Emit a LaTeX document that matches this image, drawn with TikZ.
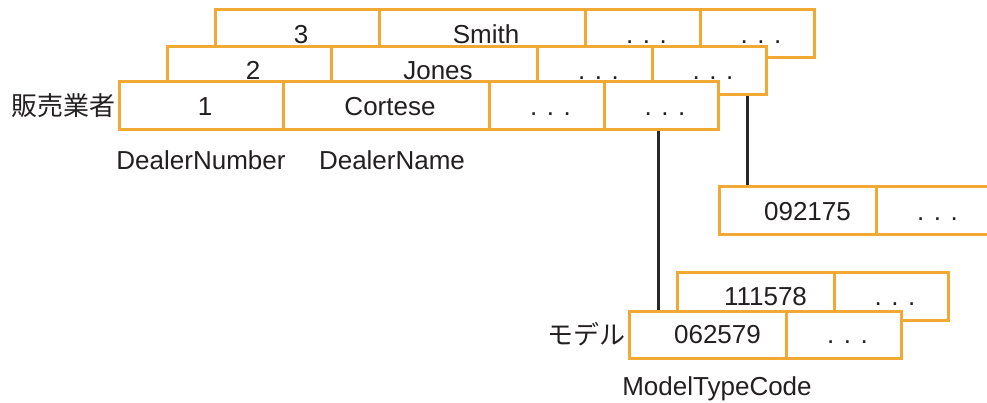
\documentclass[tikz,border=0pt]{standalone}
\usepackage{fontspec}
\setmainfont{Liberation Sans}
\newfontfamily\cjk{Noto Sans CJK JP}
\definecolor{boxorange}{RGB}{241,169,52}
\definecolor{textdark}{RGB}{35,31,32}
\definecolor{linedark}{RGB}{40,40,40}
\tikzset{
  cell/.style={draw=boxorange, line width=3pt, fill=white, inner sep=0pt, outer sep=0pt,
    minimum height=48pt, text height=18.6pt, text depth=0pt, anchor=north west,
    text=textdark, font=\fontsize{26}{30}\selectfont},
  lbl/.style={inner sep=0pt, text=textdark, font=\fontsize{26}{30}\selectfont,
    text height=18.6pt, text depth=0pt},
  cjklbl/.style={inner sep=3pt, text=textdark, font=\fontsize{26}{30}\selectfont\cjk},
  conn/.style={draw=linedark, line width=3pt, shorten >=1.5pt, shorten <=1.5pt},
}
\newcommand{\sh}{\hspace*{8pt}}
\newcommand{\shn}{\hspace*{20pt}}
\begin{document}
\begin{tikzpicture}[x=1pt,y=-1pt]
\path[use as bounding box, clip] (0,0) rectangle (987,403);
% dealer row 3 (back)
\node[cell, minimum width=164pt] (r3c1) at (215,10) {\sh 3};
\node[cell, minimum width=206pt] (r3c2) at (r3c1.north east) {\sh Smith};
\node[cell, minimum width=115pt] (r3c3) at (r3c2.north east) {\sh . . .};
\node[cell, minimum width=114pt] (r3c4) at (r3c3.north east) {\sh . . .};
% dealer row 2
\node[cell, minimum width=164pt] (r2c1) at (167,46.5) {\sh 2};
\node[cell, minimum width=206pt] (r2c2) at (r2c1.north east) {\sh Jones};
\node[cell, minimum width=115pt] (r2c3) at (r2c2.north east) {\sh . . .};
\node[cell, minimum width=114pt] (r2c4) at (r2c3.north east) {\sh . . .};
% dealer row 1 (front)
\node[cell, minimum width=164pt] (r1c1) at (119,82) {\sh 1};
\node[cell, minimum width=206pt] (r1c2) at (r1c1.north east) {\sh Cortese};
\node[cell, minimum width=115pt] (r1c3) at (r1c2.north east) {\sh . . .};
\node[cell, minimum width=114pt] (r1c4) at (r1c3.north east) {\sh . . .};
% labels
\node[cjklbl, anchor=east] (dealerlbl) at (r1c1.west) {販売業者};
\node[lbl] (dnum) at (201,160) {DealerNumber};
\node[lbl] (dname) at (392,160) {DealerName};
% single model row
\node[cell, minimum width=157pt] (d1c1) at (719,187) {\shn 092175};
\node[cell, minimum width=115pt] (d1c2) at (d1c1.north east) {\sh . . .};
% model rows
\node[cell, minimum width=157pt] (m2c1) at (677,272) {\shn 111578};
\node[cell, minimum width=114pt] (m2c2) at (m2c1.north east) {\sh . . .};
\node[cell, minimum width=157pt, minimum height=47pt] (m1c1) at (629,311) {\shn 062579};
\node[cell, minimum width=115pt, minimum height=47pt] (m1c2) at (m1c1.north east) {\sh . . .};
\node[cjklbl, anchor=east] (modellbl) at (m1c1.west) {モデル};
\node[lbl] (mtc) at (717,386.5) {ModelTypeCode};
% connectors
\draw[conn] ([xshift=-3pt]r1c4.south) -- ([xshift=-3pt]r1c4.south |- m1c1.north);
\draw[conn] ([xshift=38pt]r2c4.south) -- ([xshift=38pt]r2c4.south |- d1c1.north);
\end{tikzpicture}
\end{document}
